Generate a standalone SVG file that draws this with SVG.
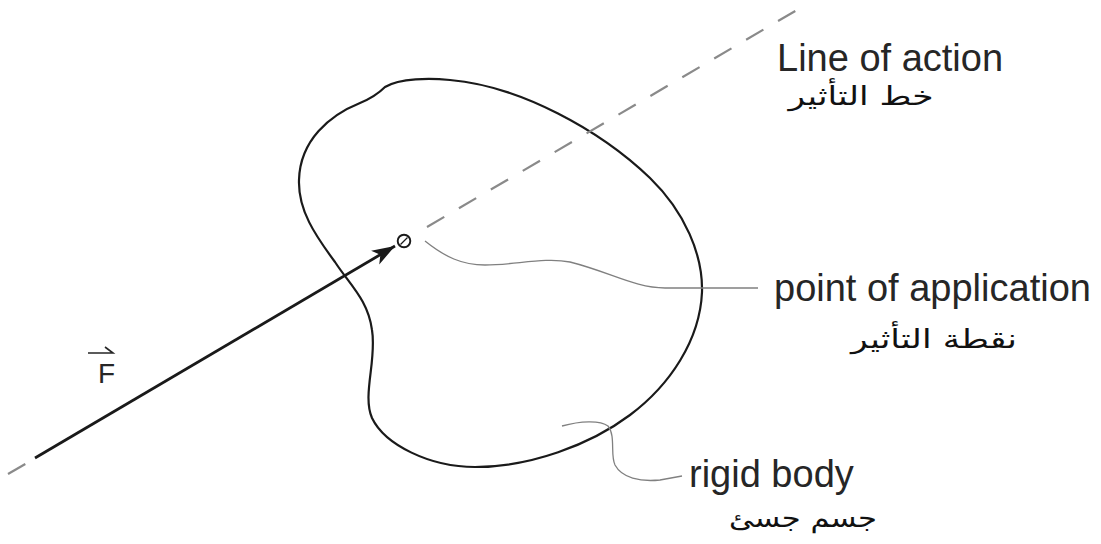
<svg xmlns="http://www.w3.org/2000/svg" width="1101" height="544" viewBox="0 0 1101 544">
  <style>
    .lbl { font-family: "Liberation Sans", Arial, sans-serif; font-size: 38px; fill: #262626; }
    .ar { font-family: "DejaVu Sans", "Noto Sans", sans-serif; font-size: 26px; fill: #111; text-anchor: middle; }
    .leader { fill: none; stroke: #808080; stroke-width: 1.3; }
    .dash { fill: none; stroke: #8a8a8a; stroke-width: 2.2; stroke-dasharray: 20 17; }
    .body { fill: none; stroke: #1a1a1a; stroke-width: 2.2; }
    .force { fill: none; stroke: #1a1a1a; stroke-width: 2.8; }
  </style>
  <defs>
    <marker id="head" viewBox="-24 -9 26 18" refX="0" refY="0" markerWidth="26" markerHeight="18" markerUnits="userSpaceOnUse" orient="auto">
      <path d="M0,0 L-23,-8 L-17,0 L-23,8 Z" fill="#1a1a1a"/>
    </marker>
  </defs>
  <rect width="1101" height="544" fill="#ffffff"/>

  <g id="rigid-body">
    <path class="body" d="M385,87 C400,78 430,78 450,80 C520,86 600,130 650,178 C685,212 703,255 702,292 C700,340 670,385 630,415 C590,445 530,467 475,467 C430,467 385,445 372,418 C362,395 377,360 372,330 C368,300 350,285 335,262 C315,235 298,210 299,180 C300,140 330,115 360,103 C372,98 380,92 385,87 Z"/>
  </g>

  <g id="connectors">
    <line id="line-of-action-upper" class="dash" x1="427" y1="227" x2="802" y2="7"/>
    <line id="line-of-action-lower" class="dash" x1="8" y1="474" x2="27" y2="463"/>
    <line id="force-vector" class="force" x1="35" y1="458" x2="395" y2="246" marker-end="url(#head)"/>
    <path id="leader-application" class="leader" d="M425,241 C445,257 462,265 485,265 C515,265 545,257 570,262 C610,272 635,288 665,288 L758,288"/>
    <path id="leader-body" class="leader" d="M562,426 C580,421 600,420 608,426 C616,436 610,455 615,465 C622,478 640,482 660,480 L682,476"/>
  </g>

  <g id="point-of-application">
    <circle cx="404" cy="241" r="6.3" fill="#fff" stroke="#1a1a1a" stroke-width="1.9"/>
    <line x1="400.5" y1="244.5" x2="407.5" y2="237.5" stroke="#1a1a1a" stroke-width="1.3"/>
  </g>

  <g id="label-force">
    <text x="98" y="383" style="font-family: 'Liberation Sans', Arial, sans-serif; font-size: 28px; fill: #262626;">F</text>
    <path d="M88,353 L113,353 L105,347" fill="none" stroke="#262626" stroke-width="1.6"/>
  </g>

  <g id="label-line-of-action">
    <text class="lbl" x="777" y="71">Line of action</text>
    <text class="ar" x="861" y="105" textLength="145" lengthAdjust="spacingAndGlyphs">خط التأثير</text>
  </g>

  <g id="label-point-of-application">
    <text class="lbl" x="774" y="301">point of application</text>
    <text class="ar" x="934" y="348" textLength="166" lengthAdjust="spacingAndGlyphs">نقطة التأثير</text>
  </g>

  <g id="label-rigid-body">
    <text class="lbl" x="689" y="487">rigid body</text>
    <text class="ar" x="803" y="527" textLength="148" lengthAdjust="spacingAndGlyphs">جسم جسئ</text>
  </g>
</svg>
